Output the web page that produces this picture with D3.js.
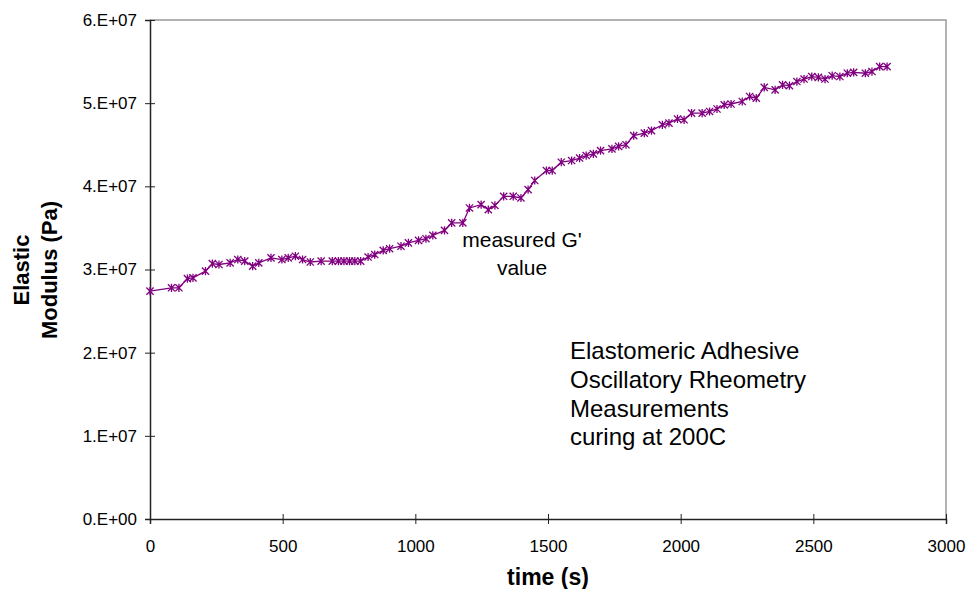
<!DOCTYPE html>
<html>
<head>
<meta charset="utf-8">
<script src="https://cdn.jsdelivr.net/npm/d3@7"></script>
<style>
  body { margin: 0; background: #fff; }
  text { font-family: "Liberation Sans", Arial, sans-serif; }
</style>
</head>
<body>
<svg id="chart" width="969" height="589"></svg>
<script>
// time (s) and elastic modulus G' (Pa)
const timeSec = [0, 81, 109, 141, 162, 209, 235, 260, 302, 331, 357, 387, 410, 456,
  497, 521, 548, 575, 604, 645, 687, 710, 731, 752, 772, 794, 822, 847, 879, 903,
  946, 974, 1012, 1040, 1066, 1110, 1137, 1179, 1204, 1248, 1275, 1300, 1333, 1369,
  1398, 1425, 1450, 1494, 1516, 1550, 1589, 1619, 1644, 1671, 1698, 1741, 1766, 1794,
  1823, 1863, 1890, 1931, 1956, 1988, 2013, 2041, 2081, 2109, 2137, 2164, 2190, 2232,
  2260, 2285, 2315, 2356, 2384, 2410, 2438, 2465, 2494, 2519, 2544, 2571, 2600, 2628,
  2652, 2696, 2721, 2750, 2778];
const modulus = [2.74, 2.78, 2.78, 2.89, 2.90, 2.98, 3.07, 3.06, 3.08, 3.12, 3.10, 3.04, 3.08, 3.14,
  3.12, 3.14, 3.16, 3.12, 3.09, 3.10, 3.10, 3.10, 3.10, 3.10, 3.10, 3.10, 3.15, 3.18, 3.23, 3.25,
  3.28, 3.32, 3.35, 3.37, 3.41, 3.47, 3.56, 3.56, 3.74, 3.78, 3.72, 3.77, 3.88, 3.88,
  3.86, 3.96, 4.07, 4.19, 4.19, 4.29, 4.31, 4.34, 4.37, 4.39, 4.43, 4.45, 4.48, 4.50,
  4.61, 4.64, 4.67, 4.74, 4.76, 4.81, 4.80, 4.88, 4.88, 4.90, 4.93, 4.98, 4.99, 5.02,
  5.08, 5.06, 5.19, 5.16, 5.22, 5.21, 5.26, 5.29, 5.32, 5.31, 5.29, 5.33, 5.32, 5.36,
  5.37, 5.36, 5.38, 5.44, 5.44].map(v => v * 1e7);

const xTicks = [0, 500, 1000, 1500, 2000, 2500, 3000];
const yTicks = [0, 1e7, 2e7, 3e7, 4e7, 5e7, 6e7];
const yTickLabels = ["0.E+00", "1.E+07", "2.E+07", "3.E+07", "4.E+07", "5.E+07", "6.E+07"];
const noteLines = ["Elastomeric Adhesive", "Oscillatory Rheometry", "Measurements", "curing at 200C"];
const pointLabel = ["measured G'", "value"];

const svg = d3.select("#chart");
const plotL = 150, plotR = 946, plotT = 20, plotB = 519;

const x = d3.scaleLinear().domain([0, 3000]).range([plotL, plotR]);
const y = d3.scaleLinear().domain([0, 6e7]).range([plotB, plotT]);

// plot frame (gray top and right)
svg.append("path")
  .attr("d", `M${plotL},${plotT}H${plotR}V${plotB}`)
  .attr("fill", "none")
  .attr("stroke", "#999")
  .attr("stroke-width", 1.5);

// x axis
const xAxis = svg.append("g")
  .attr("transform", `translate(0,${plotB})`)
  .call(d3.axisBottom(x).tickValues(xTicks).tickSize(5).tickPadding(16)
    .tickFormat(d3.format("d")));
xAxis.select(".domain").attr("stroke", "#222").attr("stroke-width", 1.5);
xAxis.selectAll(".tick line").attr("y1", -5).attr("stroke", "#222");
xAxis.selectAll("text").attr("font-size", 17).attr("fill", "#000");

// y axis
const yAxis = svg.append("g")
  .attr("transform", `translate(${plotL},0)`)
  .call(d3.axisLeft(y).tickValues(yTicks).tickSize(5).tickPadding(8)
    .tickFormat((d, i) => yTickLabels[i]));
yAxis.select(".domain").attr("stroke", "#222").attr("stroke-width", 1.5);
yAxis.selectAll(".tick line").attr("x1", 5).attr("stroke", "#222");
yAxis.selectAll("text").attr("font-size", 17).attr("fill", "#000");

// data line
const pts = timeSec.map((t, i) => [t, modulus[i]]);
svg.append("path")
  .datum(pts)
  .attr("fill", "none")
  .attr("stroke", "#800080")
  .attr("stroke-width", 1.3)
  .attr("d", d3.line().x(d => x(d[0])).y(d => y(d[1])));

// star markers
const r = 3.6;
svg.append("g").selectAll("path")
  .data(pts)
  .join("path")
  .attr("transform", d => `translate(${x(d[0])},${y(d[1])})`)
  .attr("d", `M${-r},${-r}L${r},${r}M${-r},${r}L${r},${-r}M0,${-r - 0.5}V${r + 0.5}`)
  .attr("stroke", "#800080")
  .attr("stroke-width", 1.3)
  .attr("fill", "none");

// axis titles
svg.append("text")
  .attr("x", 548).attr("y", 585)
  .attr("text-anchor", "middle")
  .attr("font-size", 23).attr("font-weight", "bold")
  .text("time (s)");

const yTitle = svg.append("text")
  .attr("transform", "translate(0,270) rotate(-90)")
  .attr("text-anchor", "middle")
  .attr("font-size", 22).attr("font-weight", "bold");
yTitle.append("tspan").attr("x", 0).attr("y", 29).text("Elastic");
yTitle.append("tspan").attr("x", 0).attr("y", 57).text("Modulus (Pa)");

// annotations
svg.append("g").selectAll("text")
  .data(pointLabel)
  .join("text")
  .attr("x", 522)
  .attr("y", (d, i) => 247 + i * 28)
  .attr("text-anchor", "middle")
  .attr("font-size", 21)
  .text(d => d);

svg.append("g").selectAll("text")
  .data(noteLines)
  .join("text")
  .attr("x", 570)
  .attr("y", (d, i) => 359 + i * 28.8)
  .attr("font-size", 24)
  .text(d => d);
</script>
</body>
</html>
